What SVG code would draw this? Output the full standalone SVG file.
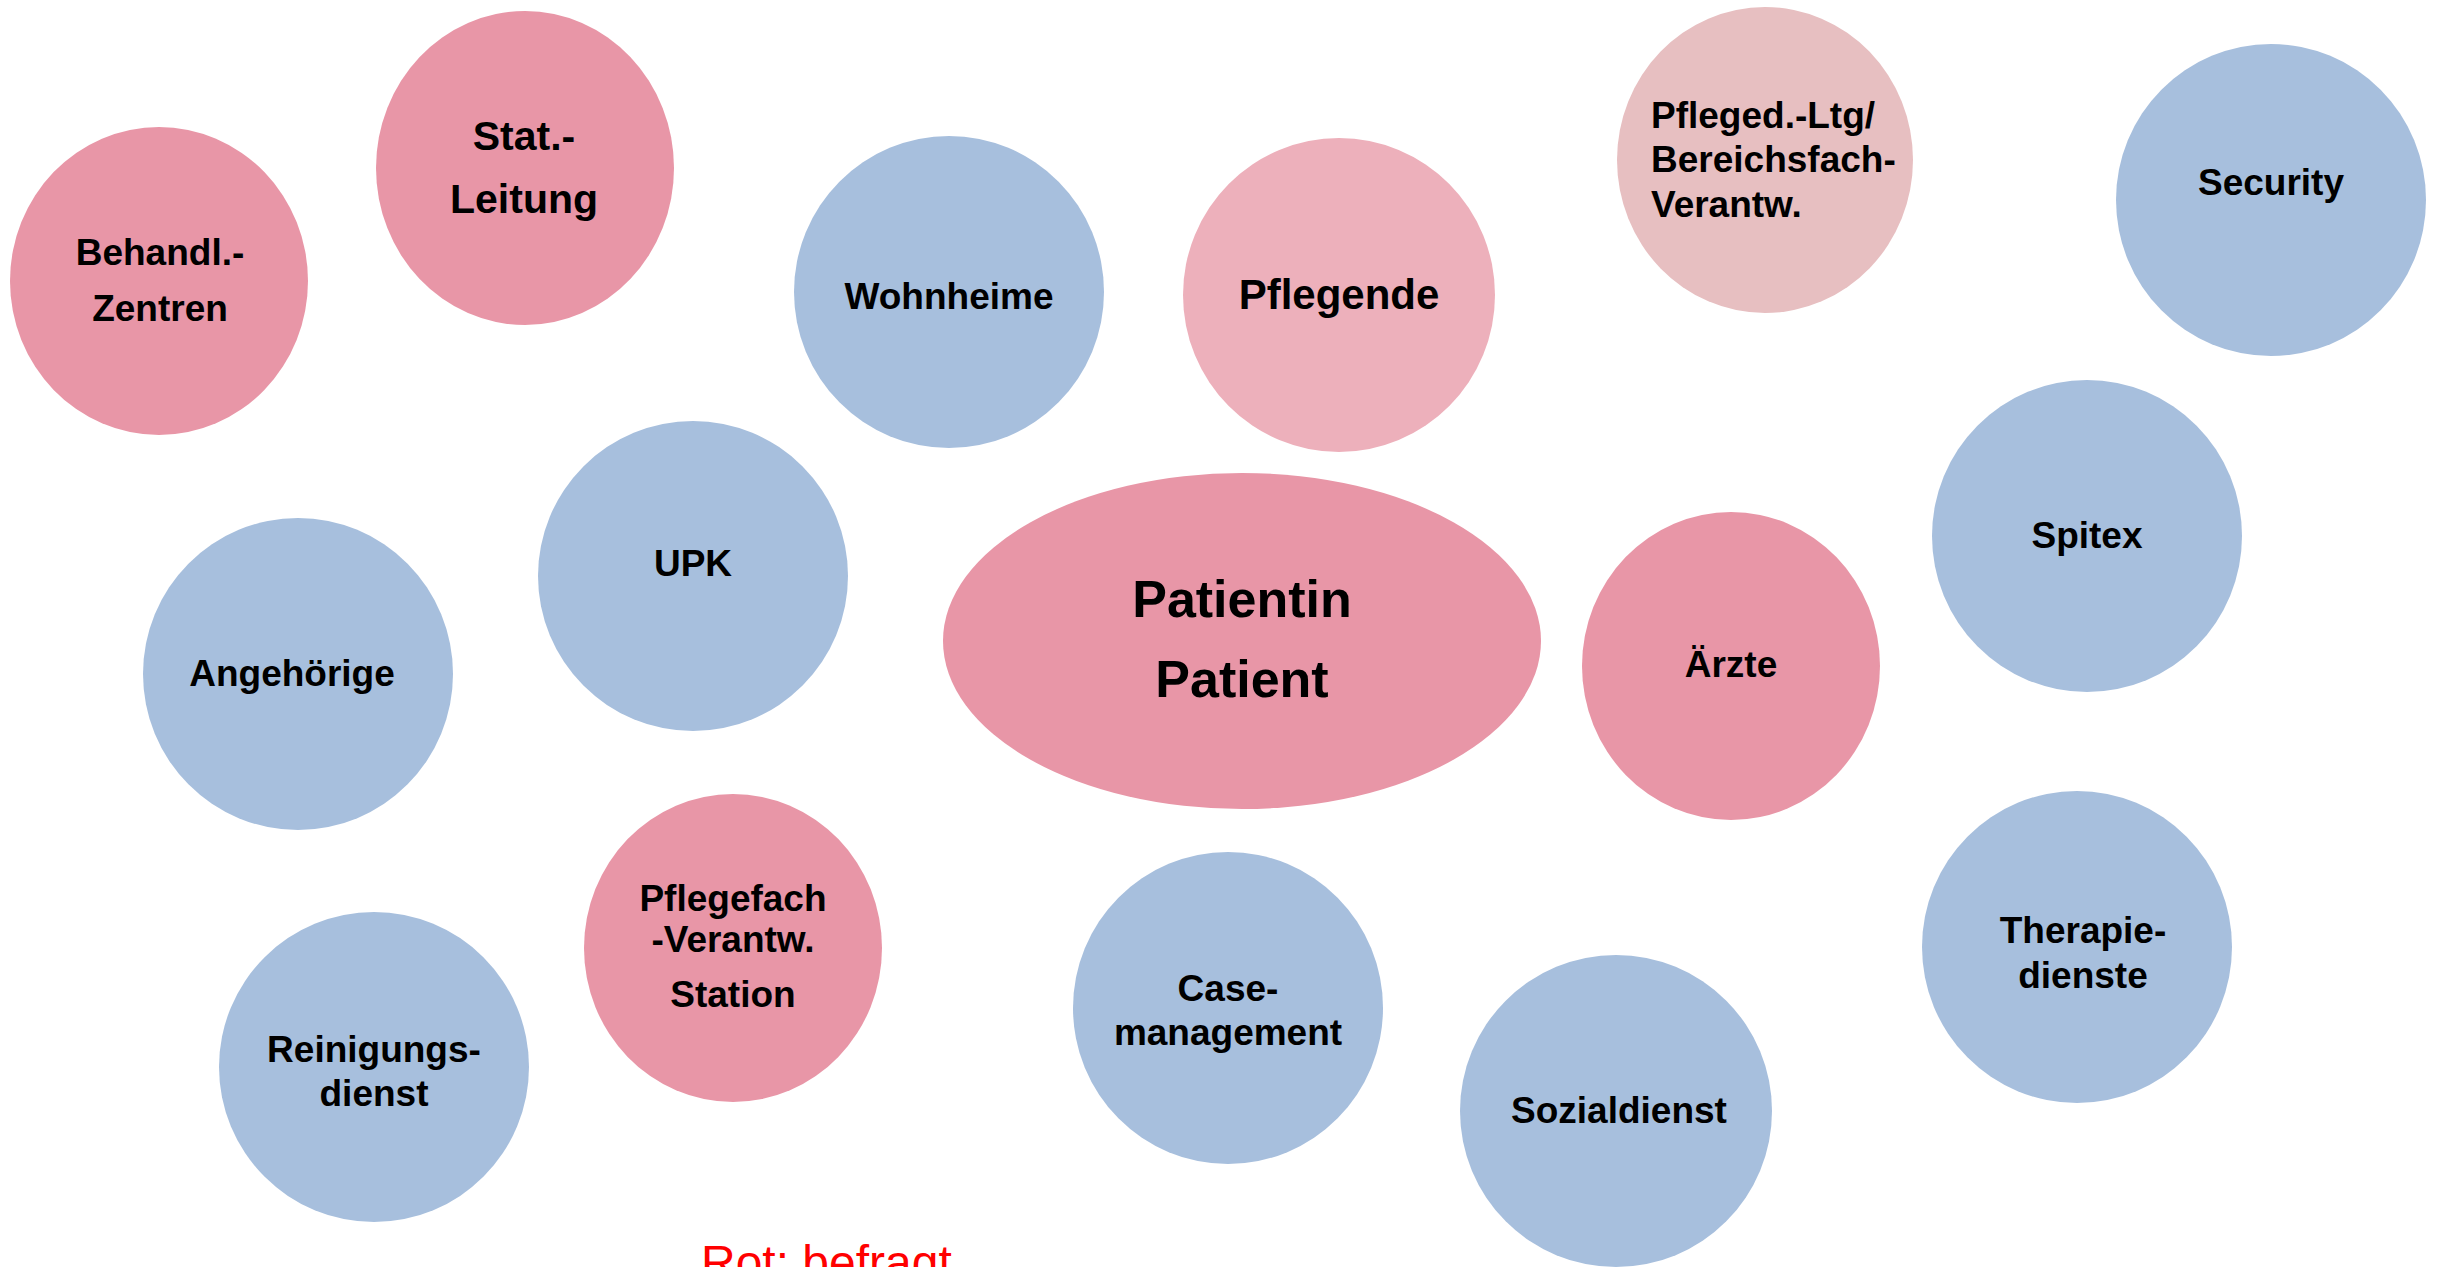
<svg xmlns="http://www.w3.org/2000/svg" width="2447" height="1267" viewBox="0 0 2447 1267">
  <style>
    .red { fill: #E896A7; }
    .blue { fill: #A7BFDD; }
    .light { fill: #EDB0BB; }
    .pale { fill: #E7BFC1; }
    text { font-family: "Liberation Sans", Arial, sans-serif; font-weight: bold; fill: #000; font-size: 37px; text-anchor: middle; }
    .note { font-weight: normal; fill: #FF0000; font-size: 48px; text-anchor: start; }
  </style>
  <rect width="2447" height="1267" fill="#FFFFFF"/>

  <!-- no connectors in this diagram -->
  <g id="connectors"/>

  <g id="behandl-zentren">
    <ellipse class="red" cx="159" cy="281" rx="149" ry="154"/>
    <text x="160" y="265">Behandl.-</text>
    <text x="160" y="321">Zentren</text>
  </g>

  <g id="stat-leitung">
    <ellipse class="red" cx="525" cy="168" rx="149" ry="157"/>
    <text x="524" y="150" style="font-size:41px">Stat.-</text>
    <text x="524" y="213" style="font-size:41px">Leitung</text>
  </g>

  <g id="wohnheime">
    <ellipse class="blue" cx="949" cy="292" rx="155" ry="156"/>
    <text x="949" y="309">Wohnheime</text>
  </g>

  <g id="pflegende">
    <ellipse class="light" cx="1339" cy="295" rx="156" ry="157"/>
    <text x="1339" y="309" style="font-size:42px">Pflegende</text>
  </g>

  <g id="pfleged-ltg">
    <ellipse class="pale" cx="1765" cy="160" rx="148" ry="153"/>
    <text x="1651" y="128" style="text-anchor:start">Pfleged.-Ltg/</text>
    <text x="1651" y="172" style="text-anchor:start">Bereichsfach-</text>
    <text x="1651" y="217" style="text-anchor:start">Verantw.</text>
  </g>

  <g id="security">
    <ellipse class="blue" cx="2271" cy="200" rx="155" ry="156"/>
    <text x="2271" y="195">Security</text>
  </g>

  <g id="spitex">
    <ellipse class="blue" cx="2087" cy="536" rx="155" ry="156"/>
    <text x="2087" y="548">Spitex</text>
  </g>

  <g id="upk">
    <ellipse class="blue" cx="693" cy="576" rx="155" ry="155"/>
    <text x="693" y="576">UPK</text>
  </g>

  <g id="angehoerige">
    <ellipse class="blue" cx="298" cy="674" rx="155" ry="156"/>
    <text x="292" y="686">Angehörige</text>
  </g>

  <g id="patient">
    <ellipse class="red" cx="1242" cy="641" rx="299" ry="168"/>
    <text x="1242" y="617" style="font-size:52px">Patientin</text>
    <text x="1242" y="697" style="font-size:52px">Patient</text>
  </g>

  <g id="aerzte">
    <ellipse class="red" cx="1731" cy="666" rx="149" ry="154"/>
    <text x="1731" y="677">Ärzte</text>
  </g>

  <g id="pflegefach-verantw">
    <ellipse class="red" cx="733" cy="948" rx="149" ry="154"/>
    <text x="733" y="911">Pflegefach</text>
    <text x="733" y="952">-Verantw.</text>
    <text x="733" y="1007">Station</text>
  </g>

  <g id="reinigungsdienst">
    <ellipse class="blue" cx="374" cy="1067" rx="155" ry="155"/>
    <text x="374" y="1062">Reinigungs-</text>
    <text x="374" y="1106">dienst</text>
  </g>

  <g id="casemanagement">
    <ellipse class="blue" cx="1228" cy="1008" rx="155" ry="156"/>
    <text x="1228" y="1001">Case-</text>
    <text x="1228" y="1045">management</text>
  </g>

  <g id="sozialdienst">
    <ellipse class="blue" cx="1616" cy="1111" rx="156" ry="156"/>
    <text x="1619" y="1123">Sozialdienst</text>
  </g>

  <g id="therapiedienste">
    <ellipse class="blue" cx="2077" cy="947" rx="155" ry="156"/>
    <text x="2083" y="943">Therapie-</text>
    <text x="2083" y="988">dienste</text>
  </g>

  <text class="note" x="701" y="1279">Rot: befragt</text>
</svg>
